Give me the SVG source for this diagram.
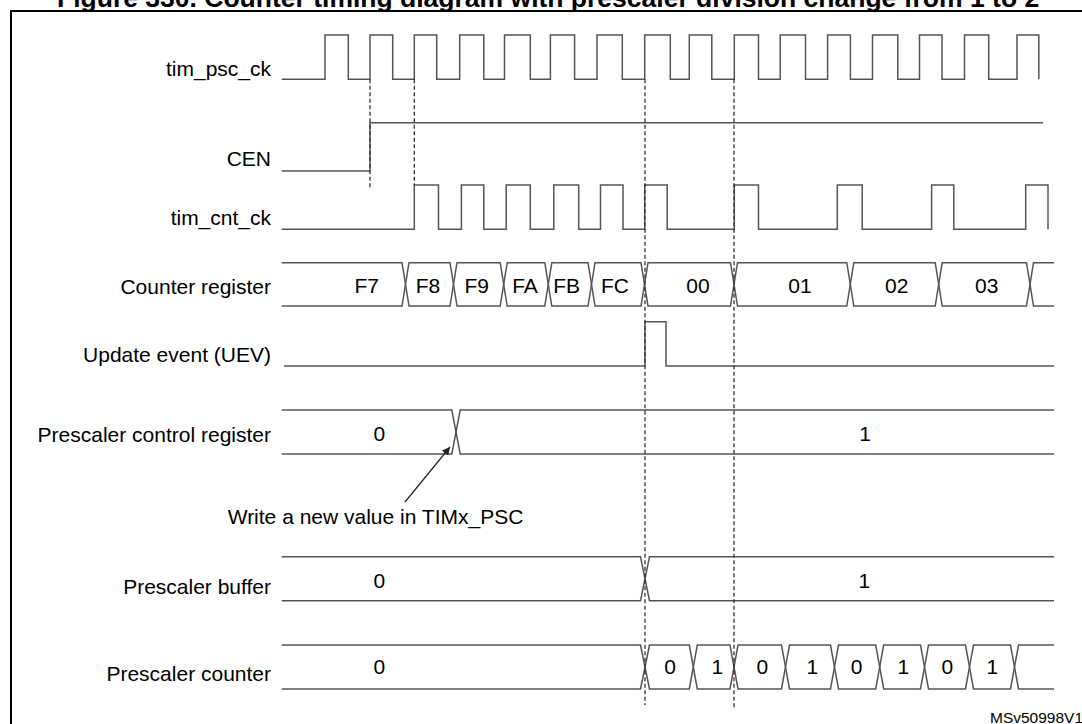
<svg xmlns="http://www.w3.org/2000/svg" width="1082" height="724" viewBox="0 0 1082 724">
<style>
  .lbl { font-family: "Liberation Sans", Arial, sans-serif; font-size: 21px; fill: #000; }
  .r { text-anchor: end; }
  .m { text-anchor: middle; }
  .wave { fill: none; stroke: #555; stroke-width: 1.5; stroke-linejoin: miter; }
  .dash { fill: none; stroke: #333; stroke-width: 1.3; stroke-dasharray: 4 2.5; }
  .title { font-family: "Liberation Sans", Arial, sans-serif; font-size: 26.5px; font-weight: bold; fill: #000; }
</style>
<defs>
  <marker id="arr" viewBox="0 0 10 10" refX="10" refY="5" markerWidth="8" markerHeight="8" markerUnits="userSpaceOnUse" orient="auto">
    <path d="M0,0 L10,5 L0,10 z" fill="#222"/>
  </marker>
</defs>
<rect width="1082" height="724" fill="#fff"/>
<text class="title" x="57" y="7">Figure 330. Counter timing diagram with prescaler division change from 1 to 2</text>
<rect x="11" y="11" width="1100" height="760" fill="none" stroke="#000" stroke-width="2"/>

<g id="tim_psc_ck">
  <text class="lbl r" x="271" y="75.5">tim_psc_ck</text>
  <path class="wave" d="M281.7,79.3 H325 V35 H348.3 V79.3 H370 V35 H392.7 V79.3 H414.3 V35 H436.7 V79.3 H459.7 V35 H483.8 V79.3 H504.5 V35 H530.3 V79.3 H550.4 V35 H574.6 V79.3 H597 V35 H622.3 V79.3 H644.7 V35 H670.3 V79.3 H689.3 V35 H711.8 V79.3 H734.3 V35 H758.5 V79.3 H780.2 V35 H805.5 V79.3 H827.6 V35 H850.4 V79.3 H872.5 V35 H897.8 V79.3 H919.5 V35 H942 V79.3 H964.5 V35 H988.7 V79.3 H1017 V35 H1038.8 V79.3"/>
</g>

<g id="CEN">
  <text class="lbl r" x="271" y="166">CEN</text>
  <path class="wave" d="M281.7,171 H370 V122.7 H1043"/>
</g>

<g id="tim_cnt_ck">
  <text class="lbl r" x="271" y="224.5">tim_cnt_ck</text>
  <path class="wave" d="M281.7,229.3 H414.3 V185 H438.5 V229.3 H461.4 V185 H483.8 V229.3 H506.2 V185 H530.3 V229.3 H553.8 V185 H578.7 V229.3 H600.5 V185 H623 V229.3 H644.7 V185 H667.2 V229.3 H734.3 V185 H758.5 V229.3 H837.3 V185 H862.2 V229.3 H931.6 V185 H953.8 V229.3 H1025.7 V185 H1048 V229.3"/>
</g>

<g id="counter_register">
  <text class="lbl r" x="271" y="294">Counter register</text>
  <path class="wave" d="M281.7,262.7 H402 L409,306 H450 L457,262.7 H500.2 L507.2,306 H544.8 L551.8,262.7 H588 L595,306 H641 L648,262.7 H730.5 L737.5,306 H846.8 L853.8,262.7 H935.2 L942.2,306 H1026.5 L1033.5,262.7 H1054"/>
  <path class="wave" d="M281.7,306 H402 L409,262.7 H450 L457,306 H500.2 L507.2,262.7 H544.8 L551.8,306 H588 L595,262.7 H641 L648,306 H730.5 L737.5,262.7 H846.8 L853.8,306 H935.2 L942.2,262.7 H1026.5 L1033.5,306 H1054"/>
  <text class="lbl m" x="366.7" y="292.7">F7</text>
  <text class="lbl m" x="428" y="292.7">F8</text>
  <text class="lbl m" x="476.7" y="292.7">F9</text>
  <text class="lbl m" x="525" y="292.7">FA</text>
  <text class="lbl m" x="566.7" y="292.7">FB</text>
  <text class="lbl m" x="615" y="292.7">FC</text>
  <text class="lbl m" x="698" y="292.7">00</text>
  <text class="lbl m" x="800" y="292.7">01</text>
  <text class="lbl m" x="896.7" y="292.7">02</text>
  <text class="lbl m" x="986.7" y="292.7">03</text>
</g>

<g id="update_event">
  <text class="lbl r" x="271" y="361.5">Update event (UEV)</text>
  <path class="wave" d="M284,366 H645 V321.7 H666 V366 H1054"/>
</g>

<g id="prescaler_control_register">
  <text class="lbl r" x="271" y="441.5">Prescaler control register</text>
  <path class="wave" d="M281.7,410 H451.8 L460.2,454 H1054"/>
  <path class="wave" d="M281.7,454 H451.8 L460.2,410 H1054"/>
  <text class="lbl m" x="379.3" y="441">0</text>
  <text class="lbl m" x="865" y="441">1</text>
</g>

<g id="write_note">
  <text class="lbl" x="227.7" y="524.2">Write a new value in TIMx_PSC</text>
</g>

<g id="prescaler_buffer">
  <text class="lbl r" x="271" y="594">Prescaler buffer</text>
  <path class="wave" d="M281.7,556.7 H640.5 L649.5,600.7 H1054"/>
  <path class="wave" d="M281.7,600.7 H640.5 L649.5,556.7 H1054"/>
  <text class="lbl m" x="379.3" y="588.3">0</text>
  <text class="lbl m" x="864.3" y="588">1</text>
</g>

<g id="prescaler_counter">
  <text class="lbl r" x="271" y="680.7">Prescaler counter</text>
  <path class="wave" d="M281.7,645 H640.5 L649.5,689 H689.3 L697.3,645 H730 L738,689 H781.5 L789.5,645 H830.5 L838.5,689 H875.7 L883.7,645 H920.5 L928.5,689 H965.5 L973.5,645 H1010.5 L1018.5,689 H1054"/>
  <path class="wave" d="M281.7,689 H640.5 L649.5,645 H689.3 L697.3,689 H730 L738,645 H781.5 L789.5,689 H830.5 L838.5,645 H875.7 L883.7,689 H920.5 L928.5,645 H965.5 L973.5,689 H1010.5 L1018.5,645 H1054"/>
  <text class="lbl m" x="379.3" y="674">0</text>
  <text class="lbl m" x="670" y="674">0</text>
  <text class="lbl m" x="717.3" y="674">1</text>
  <text class="lbl m" x="762.3" y="674">0</text>
  <text class="lbl m" x="812.3" y="674">1</text>
  <text class="lbl m" x="856.7" y="674">0</text>
  <text class="lbl m" x="903.3" y="674">1</text>
  <text class="lbl m" x="947.3" y="674">0</text>
  <text class="lbl m" x="992.3" y="674">1</text>
</g>

<g id="connectors">
  <line class="dash" x1="370" y1="79.3" x2="370" y2="190"/>
  <line class="dash" x1="414.3" y1="79.3" x2="414.3" y2="185"/>
  <line class="dash" x1="645" y1="79.3" x2="645" y2="705"/>
  <line class="dash" x1="734" y1="79.3" x2="734" y2="710"/>
  <line x1="405" y1="502" x2="450" y2="447" stroke="#222" stroke-width="1.2" marker-end="url(#arr)"/>
</g>

<text x="990" y="723" font-family="Liberation Sans, Arial, sans-serif" font-size="15.5" fill="#000">MSv50998V1</text>
</svg>
